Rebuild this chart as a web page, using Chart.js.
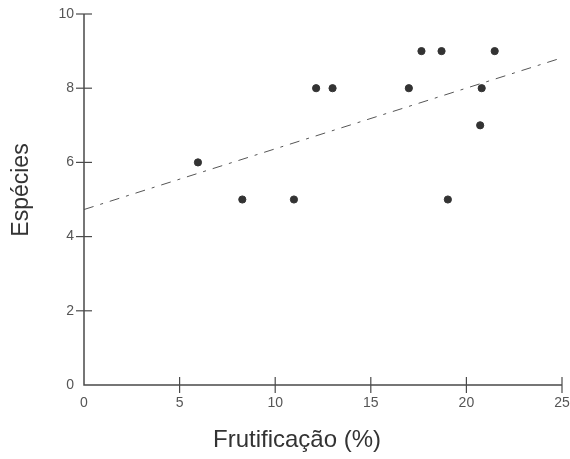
<!DOCTYPE html>
<html>
<head>
<meta charset="utf-8">
<script src="https://cdn.jsdelivr.net/npm/chart.js@4/dist/chart.umd.min.js"></script>
<style>
html,body{margin:0;padding:0;background:#fff;}
#wrap{width:570px;height:459px;position:relative;}
</style>
</head>
<body>
<div id="wrap"><canvas id="c" width="570" height="459"></canvas></div>
<script>
const frutificacao = [5.96, 8.28, 10.98, 12.14, 13.0, 16.99, 17.65, 18.7, 19.03, 20.72, 20.8, 21.48];
const especies     = [6,    5,    5,     8,     8,    8,     9,     9,    5,     7,     8,    9];
const trendX = [0, 25];
const trendY = [4.73, 8.82];
const xTicks = [0, 5, 10, 15, 20, 25];
const yTicks = [0, 2, 4, 6, 8, 10];
const xTitle = 'Frutificação (%)';
const yTitle = 'Espécies';

const axisColor = '#4a4a4a';
const FONT = 'Liberation Sans, Arial, sans-serif';

const crossTicks = {
  id: 'crossTicks',
  afterDatasetsDraw(chart) {
    const ctx = chart.ctx;
    const xs = chart.scales.x, ys = chart.scales.y;
    const ca = chart.chartArea;
    ctx.save();
    ctx.strokeStyle = axisColor;
    ctx.lineWidth = 1.5;
    ctx.beginPath();
    ctx.moveTo(ca.left, ys.getPixelForValue(yTicks[yTicks.length-1]));
    ctx.lineTo(ca.left, ca.bottom);
    ctx.lineTo(xs.getPixelForValue(xTicks[xTicks.length-1]), ca.bottom);
    ctx.stroke();
    ctx.lineWidth = 1.2;
    xTicks.forEach(v => {
      if (v === 0) return;
      const px = xs.getPixelForValue(v);
      ctx.beginPath();
      ctx.moveTo(px, ca.bottom - 8);
      ctx.lineTo(px, ca.bottom + 8);
      ctx.stroke();
    });
    yTicks.forEach(v => {
      if (v === 0) return;
      const py = ys.getPixelForValue(v);
      ctx.beginPath();
      ctx.moveTo(ca.left - 8, py);
      ctx.lineTo(ca.left + 8, py);
      ctx.stroke();
    });
    // axis titles
    ctx.fillStyle = '#333';
    ctx.textAlign = 'center';
    ctx.textBaseline = 'middle';
    ctx.font = '24px ' + FONT;
    ctx.fillText(xTitle, 297, 440);
    ctx.save();
    ctx.translate(22, 190);
    ctx.rotate(-Math.PI / 2);
    ctx.font = '23px ' + FONT;
    ctx.fillText(yTitle, 0, 0);
    ctx.restore();
    ctx.restore();
  }
};

new Chart(document.getElementById('c'), {
  data: {
    datasets: [
      {
        type: 'scatter',
        data: frutificacao.map((x, i) => ({x: x, y: especies[i]})),
        backgroundColor: '#333333',
        borderColor: '#333333',
        pointRadius: 3.6,
        pointStyle: 'circle',
        order: 1
      },
      {
        type: 'line',
        data: trendX.map((x, i) => ({x: x, y: trendY[i]})),
        borderColor: '#555555',
        borderWidth: 1,
        borderDash: [10, 7, 3, 7],
        pointRadius: 0,
        fill: false,
        order: 2
      }
    ]
  },
  options: {
    responsive: false,
    animation: false,
    devicePixelRatio: 1,
    layout: { padding: 0 },
    plugins: { legend: { display: false }, tooltip: { enabled: false } },
    scales: {
      x: {
        type: 'linear',
        min: 0, max: 25,
        afterFit(s) { s.height = 74; s.paddingLeft = 0; s.paddingRight = 8; },
        afterBuildTicks(s) { s.ticks = xTicks.map(v => ({value: v})); },
        border: { display: false },
        grid: { display: false, drawTicks: false },
        ticks: { padding: 10, color: '#555', font: { family: FONT, size: 14 }, maxRotation: 0 },
        title: { display: false }
      },
      y: {
        type: 'linear',
        min: 0, max: 10,
        afterFit(s) { s.width = 84; s.paddingTop = 14; s.paddingBottom = 0; },
        afterBuildTicks(s) { s.ticks = yTicks.map(v => ({value: v})); },
        border: { display: false },
        grid: { display: false, drawTicks: false },
        ticks: { padding: 10, color: '#555', font: { family: FONT, size: 14 } },
        title: { display: false }
      }
    }
  },
  plugins: [crossTicks]
});
</script>
</body>
</html>
